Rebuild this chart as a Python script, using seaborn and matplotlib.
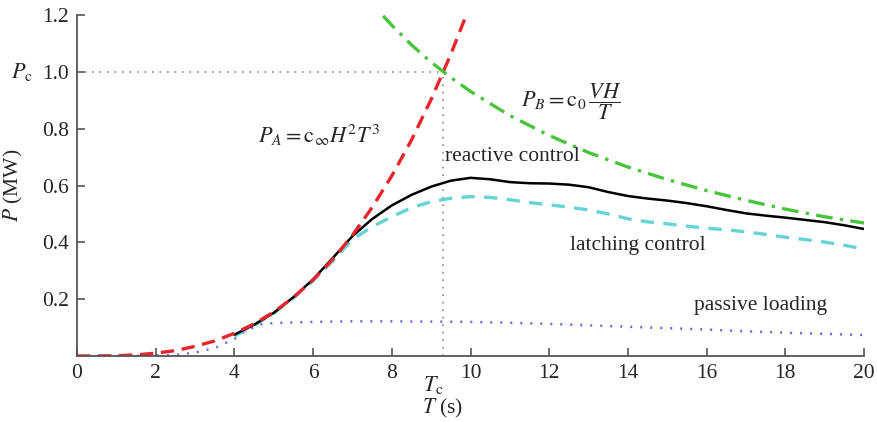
import seaborn as sns
import numpy as np
import matplotlib
matplotlib.use('Agg')
import matplotlib.pyplot as plt
import matplotlib.transforms as mtransforms

# critical period / power marked on the axes
T_C = 9.31
P_C = 1.0

# P_A = c_inf H^2 T^3 (red dashed)
t_a = [0, 0.5, 1, 1.5, 2, 2.5, 3, 3.5, 4, 4.5, 5, 5.5, 6, 6.5, 7, 7.5, 8, 8.5, 9, 9.5, 9.85]
p_a = [0, 0.0002, 0.001, 0.004, 0.01, 0.019, 0.034, 0.053, 0.08, 0.113, 0.155, 0.206, 0.268, 0.34,
       0.425, 0.523, 0.634, 0.76, 0.903, 1.062, 1.185]

# P_B = c_0 VH / T (green dash-dot)
t_b = [7.78, 8, 8.5, 9, 9.5, 10, 11, 12, 13, 14, 15, 16, 17, 18, 19, 20]
p_b = [1.197, 1.164, 1.095, 1.034, 0.98, 0.931, 0.846, 0.776, 0.716, 0.665, 0.621, 0.582, 0.548,
       0.517, 0.49, 0.468]

# reactive control (black)
t_r = [4, 4.5, 5, 5.5, 6, 6.5, 7, 7.5, 8, 8.5, 9, 9.5, 10, 10.5, 11, 11.5, 12, 12.5, 13, 13.5,
       14, 14.5, 15, 15.5, 16, 16.5, 17, 17.5, 18, 18.5, 19, 19.5, 20]
p_r = [0.075, 0.11, 0.152, 0.207, 0.27, 0.345, 0.422, 0.482, 0.53, 0.567, 0.596, 0.617, 0.627,
       0.622, 0.612, 0.608, 0.607, 0.603, 0.594, 0.577, 0.563, 0.554, 0.547, 0.538, 0.527, 0.514,
       0.502, 0.494, 0.487, 0.479, 0.471, 0.46, 0.447]

# latching control (cyan dashed)
t_l = t_r
p_l = [0.07, 0.108, 0.15, 0.205, 0.265, 0.335, 0.41, 0.455, 0.49, 0.522, 0.543, 0.555, 0.561,
       0.558, 0.55, 0.54, 0.532, 0.524, 0.514, 0.5, 0.483, 0.472, 0.465, 0.457, 0.45, 0.444,
       0.437, 0.428, 0.418, 0.41, 0.401, 0.39, 0.376]

# passive loading (blue dotted)
t_p = [0, 1, 2, 2.5, 3, 3.5, 4, 4.3, 4.7, 5, 6, 7, 8, 9, 10, 11, 12, 13, 14, 15, 16, 17, 18, 19, 20]
p_p = [0, 0, 0.001, 0.004, 0.012, 0.028, 0.06, 0.09, 0.112, 0.116, 0.12, 0.122, 0.122, 0.121,
       0.12, 0.117, 0.113, 0.108, 0.103, 0.098, 0.093, 0.087, 0.082, 0.078, 0.074]

x_ticks = [0, 2, 4, 6, 8, 10, 12, 14, 16, 18, 20]
y_ticks = [0.2, 0.4, 0.6, 0.8, 1.0, 1.2]

sns.set_style('ticks')
plt.rcParams['font.family'] = ['Liberation Serif', 'DejaVu Serif']
plt.rcParams['mathtext.fontset'] = 'stix'
plt.rcParams['font.size'] = 15.5

fig = plt.figure(figsize=(8.77, 4.22), dpi=100)
ax = fig.add_axes([0.0878, 0.1564, 0.8974, 0.808])

# reference lines at T_c / P_c
ax.plot([0, T_C], [P_C, P_C], color='#8a8a8a', lw=1.2, linestyle=(0, (1, 3.5)))
ax.plot([T_C, T_C], [0, P_C], color='#8a8a8a', lw=1.2, linestyle=(0, (1, 3.5)))

sns.lineplot(x=t_p, y=p_p, ax=ax, color='#6b6bd6', lw=1.8, linestyle=(0, (0.8, 3.2)))
sns.lineplot(x=t_l, y=p_l, ax=ax, color='#66d4d4', lw=2.4, linestyle=(0, (4, 2.8)))
sns.lineplot(x=t_r, y=p_r, ax=ax, color='black', lw=1.8)
sns.lineplot(x=t_a, y=p_a, ax=ax, color='#e8242c', lw=2.4, linestyle=(0, (4, 2.3)))
sns.lineplot(x=t_b, y=p_b, ax=ax, color='#48c43c', lw=2.4, linestyle=(0, (5, 2.2, 1, 2.2)))

ax.set_xlim(0, 20)
ax.set_ylim(0, 1.2)
ax.set_xticks(x_ticks)
ax.set_xticklabels([str(v) for v in x_ticks])
ax.set_yticks(y_ticks)
ax.set_yticklabels(['%.1f' % v for v in y_ticks])

sns.despine(ax=ax)
for s in ['left', 'bottom']:
    ax.spines[s].set_color('#555555')
    ax.spines[s].set_linewidth(1.3)
ax.tick_params(direction='in', length=6, width=1.2, color='#555555', labelsize=15.5, pad=6)

ax.set_xlabel('$T$ (s)', fontsize=15.5)
ax.xaxis.set_label_coords(0.465, -0.12)
ax.set_ylabel('$P$ (MW)', fontsize=15.5)
ax.yaxis.set_label_coords(-0.066, 0.5)

# annotations
ax.text(6.15, 0.775, r'$P_A = \mathrm{c}_{\infty} H^2 T^3$', ha='center', va='center', fontsize=16)
ax.text(12.55, 0.895, r'$P_B = \mathrm{c}_0\,\dfrac{VH}{T}$', ha='center', va='center', fontsize=16)
ax.text(9.36, 0.703, 'reactive control', ha='left', va='center', fontsize=15.5)
ax.text(12.54, 0.39, 'latching control', ha='left', va='center', fontsize=15.5)
ax.text(15.68, 0.176, 'passive loading', ha='left', va='center', fontsize=15.5)

trans_x = mtransforms.blended_transform_factory(ax.transData, ax.transAxes)
trans_y = mtransforms.blended_transform_factory(ax.transAxes, ax.transData)
ax.text(T_C - 0.25, -0.085, r'$T_\mathrm{c}$', transform=trans_x, ha='center', va='center', fontsize=16)
ax.text(-0.07, P_C, r'$P_\mathrm{c}$', transform=trans_y, ha='center', va='center', fontsize=16)

fig.savefig('out.png', dpi=100)
